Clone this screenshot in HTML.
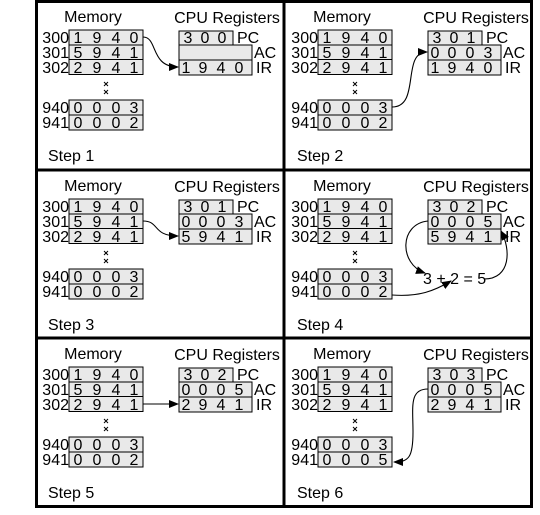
<!DOCTYPE html>
<html><head><meta charset="utf-8"><style>
html,body{margin:0;padding:0;background:#fff;}
svg{display:block;font-family:"Liberation Sans",sans-serif;font-size:16px;}
.c{fill:#e9e9e9;stroke:#000;stroke-width:1}
.m text,.r text{text-anchor:middle}
.l{text-anchor:end}
.a{fill:none;stroke:#000;stroke-width:1.1}
</style></head><body>
<svg width="540" height="515" viewBox="0 0 540 515">
<defs>
<marker id="ah" markerWidth="10" markerHeight="8" refX="9" refY="4" orient="auto" markerUnits="userSpaceOnUse"><path d="M0,0 L10,4 L0,8 z" fill="#000"/></marker>
<g id="frame">
<rect class="c" x="69" y="30" width="74" height="15"/>
<rect class="c" x="69" y="45" width="74" height="14.5"/>
<rect class="c" x="69" y="59.5" width="74" height="15"/>
<rect class="c" x="69" y="100" width="74" height="15"/>
<rect class="c" x="69" y="115" width="74" height="15"/>
<rect class="c" x="179" y="31" width="54" height="14"/>
<rect class="c" x="179" y="45" width="73" height="15"/>
<rect class="c" x="179" y="60" width="73" height="15"/>
<path d="M104,82 l4,4 M108,82 l-4,4 M104,90 l4,4 M108,90 l-4,4" stroke="#000" stroke-width="1"/>
</g>
</defs>

<rect x="36.5" y="1.5" width="495" height="505" fill="none" stroke="#000" stroke-width="3"/>
<line x1="284" y1="0" x2="284" y2="507" stroke="#000" stroke-width="3"/>
<line x1="36" y1="170" x2="532" y2="170" stroke="#000" stroke-width="3"/>
<line x1="36" y1="338" x2="532" y2="338" stroke="#000" stroke-width="3"/>

<g transform="translate(0,0)">
<use href="#frame"/>
<text x="93" y="22" text-anchor="middle">Memory</text><text x="227" y="23" text-anchor="middle">CPU Registers</text>
<text class="l" x="69" y="43">300</text><text class="l" x="69" y="58">301</text><text class="l" x="69" y="73">302</text><text class="l" x="69" y="113">940</text><text class="l" x="69" y="128">941</text>
<g class="m"><text x="78" y="43">1</text><text x="97" y="43">9</text><text x="116" y="43">4</text><text x="134" y="43">0</text>
<text x="78" y="58">5</text><text x="97" y="58">9</text><text x="116" y="58">4</text><text x="134" y="58">1</text>
<text x="78" y="73">2</text><text x="97" y="73">9</text><text x="116" y="73">4</text><text x="134" y="73">1</text>
<text x="78" y="113">0</text><text x="97" y="113">0</text><text x="116" y="113">0</text><text x="134" y="113">3</text>
<text x="78" y="128">0</text><text x="97" y="128">0</text><text x="116" y="128">0</text><text x="134" y="128">2</text></g>
<g class="r"><text x="188" y="43">3</text><text x="205" y="43">0</text><text x="222" y="43">0</text>
<text x="186" y="73">1</text><text x="203" y="73">9</text><text x="221" y="73">4</text><text x="239" y="73">0</text></g>
<text x="237" y="43">PC</text><text x="254" y="58">AC</text><text x="256" y="73">IR</text>
<text x="48" y="161">Step 1</text>
<path class="a" marker-end="url(#ah)" d="M143,37 C158,37 150,67 178,67"/>
</g>

<g transform="translate(249,0)">
<use href="#frame"/>
<text x="93" y="22" text-anchor="middle">Memory</text><text x="227" y="23" text-anchor="middle">CPU Registers</text>
<text class="l" x="69" y="43">300</text><text class="l" x="69" y="58">301</text><text class="l" x="69" y="73">302</text><text class="l" x="69" y="113">940</text><text class="l" x="69" y="128">941</text>
<g class="m"><text x="78" y="43">1</text><text x="97" y="43">9</text><text x="116" y="43">4</text><text x="134" y="43">0</text>
<text x="78" y="58">5</text><text x="97" y="58">9</text><text x="116" y="58">4</text><text x="134" y="58">1</text>
<text x="78" y="73">2</text><text x="97" y="73">9</text><text x="116" y="73">4</text><text x="134" y="73">1</text>
<text x="78" y="113">0</text><text x="97" y="113">0</text><text x="116" y="113">0</text><text x="134" y="113">3</text>
<text x="78" y="128">0</text><text x="97" y="128">0</text><text x="116" y="128">0</text><text x="134" y="128">2</text></g>
<g class="r"><text x="188" y="43">3</text><text x="205" y="43">0</text><text x="222" y="43">1</text>
<text x="186" y="58">0</text><text x="203" y="58">0</text><text x="221" y="58">0</text><text x="239" y="58">3</text>
<text x="186" y="73">1</text><text x="203" y="73">9</text><text x="221" y="73">4</text><text x="239" y="73">0</text></g>
<text x="237" y="43">PC</text><text x="254" y="58">AC</text><text x="256" y="73">IR</text>
<text x="48" y="161">Step 2</text>
<path class="a" marker-end="url(#ah)" d="M143,107 C172,107 152,52 178,52"/>
</g>

<g transform="translate(0,169)">
<use href="#frame"/>
<text x="93" y="22" text-anchor="middle">Memory</text><text x="227" y="23" text-anchor="middle">CPU Registers</text>
<text class="l" x="69" y="43">300</text><text class="l" x="69" y="58">301</text><text class="l" x="69" y="73">302</text><text class="l" x="69" y="113">940</text><text class="l" x="69" y="128">941</text>
<g class="m"><text x="78" y="43">1</text><text x="97" y="43">9</text><text x="116" y="43">4</text><text x="134" y="43">0</text>
<text x="78" y="58">5</text><text x="97" y="58">9</text><text x="116" y="58">4</text><text x="134" y="58">1</text>
<text x="78" y="73">2</text><text x="97" y="73">9</text><text x="116" y="73">4</text><text x="134" y="73">1</text>
<text x="78" y="113">0</text><text x="97" y="113">0</text><text x="116" y="113">0</text><text x="134" y="113">3</text>
<text x="78" y="128">0</text><text x="97" y="128">0</text><text x="116" y="128">0</text><text x="134" y="128">2</text></g>
<g class="r"><text x="188" y="43">3</text><text x="205" y="43">0</text><text x="222" y="43">1</text>
<text x="186" y="58">0</text><text x="203" y="58">0</text><text x="221" y="58">0</text><text x="239" y="58">3</text>
<text x="186" y="73">5</text><text x="203" y="73">9</text><text x="221" y="73">4</text><text x="239" y="73">1</text></g>
<text x="237" y="43">PC</text><text x="254" y="58">AC</text><text x="256" y="73">IR</text>
<text x="48" y="161">Step 3</text>
<path class="a" marker-end="url(#ah)" d="M143,52 C160,52 152,67 178,67"/>
</g>

<g transform="translate(249,169)">
<use href="#frame"/>
<text x="93" y="22" text-anchor="middle">Memory</text><text x="227" y="23" text-anchor="middle">CPU Registers</text>
<text class="l" x="69" y="43">300</text><text class="l" x="69" y="58">301</text><text class="l" x="69" y="73">302</text><text class="l" x="69" y="113">940</text><text class="l" x="69" y="128">941</text>
<g class="m"><text x="78" y="43">1</text><text x="97" y="43">9</text><text x="116" y="43">4</text><text x="134" y="43">0</text>
<text x="78" y="58">5</text><text x="97" y="58">9</text><text x="116" y="58">4</text><text x="134" y="58">1</text>
<text x="78" y="73">2</text><text x="97" y="73">9</text><text x="116" y="73">4</text><text x="134" y="73">1</text>
<text x="78" y="113">0</text><text x="97" y="113">0</text><text x="116" y="113">0</text><text x="134" y="113">3</text>
<text x="78" y="128">0</text><text x="97" y="128">0</text><text x="116" y="128">0</text><text x="134" y="128">2</text></g>
<g class="r"><text x="188" y="43">3</text><text x="205" y="43">0</text><text x="222" y="43">2</text>
<text x="186" y="58">0</text><text x="203" y="58">0</text><text x="221" y="58">0</text><text x="239" y="58">5</text>
<text x="186" y="73">5</text><text x="203" y="73">9</text><text x="221" y="73">4</text><text x="239" y="73">1</text></g>
<text x="237" y="43">PC</text><text x="254" y="58">AC</text><text x="256" y="73">IR</text>
<text x="48" y="161">Step 4</text>
<text x="174" y="115">3 + 2 = 5</text>
<path class="a" marker-end="url(#ah)" d="M179,52 C150,55 150,95 176,104"/>
<path class="a" marker-end="url(#ah)" d="M143,126 C170,128 185,122 202,112"/>
<path class="a" marker-end="url(#ah)" d="M235,110 C262,110 262,80 252,62"/>
</g>

<g transform="translate(0,337)">
<use href="#frame"/>
<text x="93" y="22" text-anchor="middle">Memory</text><text x="227" y="23" text-anchor="middle">CPU Registers</text>
<text class="l" x="69" y="43">300</text><text class="l" x="69" y="58">301</text><text class="l" x="69" y="73">302</text><text class="l" x="69" y="113">940</text><text class="l" x="69" y="128">941</text>
<g class="m"><text x="78" y="43">1</text><text x="97" y="43">9</text><text x="116" y="43">4</text><text x="134" y="43">0</text>
<text x="78" y="58">5</text><text x="97" y="58">9</text><text x="116" y="58">4</text><text x="134" y="58">1</text>
<text x="78" y="73">2</text><text x="97" y="73">9</text><text x="116" y="73">4</text><text x="134" y="73">1</text>
<text x="78" y="113">0</text><text x="97" y="113">0</text><text x="116" y="113">0</text><text x="134" y="113">3</text>
<text x="78" y="128">0</text><text x="97" y="128">0</text><text x="116" y="128">0</text><text x="134" y="128">2</text></g>
<g class="r"><text x="188" y="43">3</text><text x="205" y="43">0</text><text x="222" y="43">2</text>
<text x="186" y="58">0</text><text x="203" y="58">0</text><text x="221" y="58">0</text><text x="239" y="58">5</text>
<text x="186" y="73">2</text><text x="203" y="73">9</text><text x="221" y="73">4</text><text x="239" y="73">1</text></g>
<text x="237" y="43">PC</text><text x="254" y="58">AC</text><text x="256" y="73">IR</text>
<text x="48" y="161">Step 5</text>
<path class="a" marker-end="url(#ah)" d="M143,67 L178,67"/>
</g>

<g transform="translate(249,337)">
<use href="#frame"/>
<text x="93" y="22" text-anchor="middle">Memory</text><text x="227" y="23" text-anchor="middle">CPU Registers</text>
<text class="l" x="69" y="43">300</text><text class="l" x="69" y="58">301</text><text class="l" x="69" y="73">302</text><text class="l" x="69" y="113">940</text><text class="l" x="69" y="128">941</text>
<g class="m"><text x="78" y="43">1</text><text x="97" y="43">9</text><text x="116" y="43">4</text><text x="134" y="43">0</text>
<text x="78" y="58">5</text><text x="97" y="58">9</text><text x="116" y="58">4</text><text x="134" y="58">1</text>
<text x="78" y="73">2</text><text x="97" y="73">9</text><text x="116" y="73">4</text><text x="134" y="73">1</text>
<text x="78" y="113">0</text><text x="97" y="113">0</text><text x="116" y="113">0</text><text x="134" y="113">3</text>
<text x="78" y="128">0</text><text x="97" y="128">0</text><text x="116" y="128">0</text><text x="134" y="128">5</text></g>
<g class="r"><text x="188" y="43">3</text><text x="205" y="43">0</text><text x="222" y="43">3</text>
<text x="186" y="58">0</text><text x="203" y="58">0</text><text x="221" y="58">0</text><text x="239" y="58">5</text>
<text x="186" y="73">2</text><text x="203" y="73">9</text><text x="221" y="73">4</text><text x="239" y="73">1</text></g>
<text x="237" y="43">PC</text><text x="254" y="58">AC</text><text x="256" y="73">IR</text>
<text x="48" y="161">Step 6</text>
<path class="a" marker-end="url(#ah)" d="M179,52 C160,52 164,70 164,95 C164,120 160,125 145,125"/>
</g>
</svg>
</body></html>
